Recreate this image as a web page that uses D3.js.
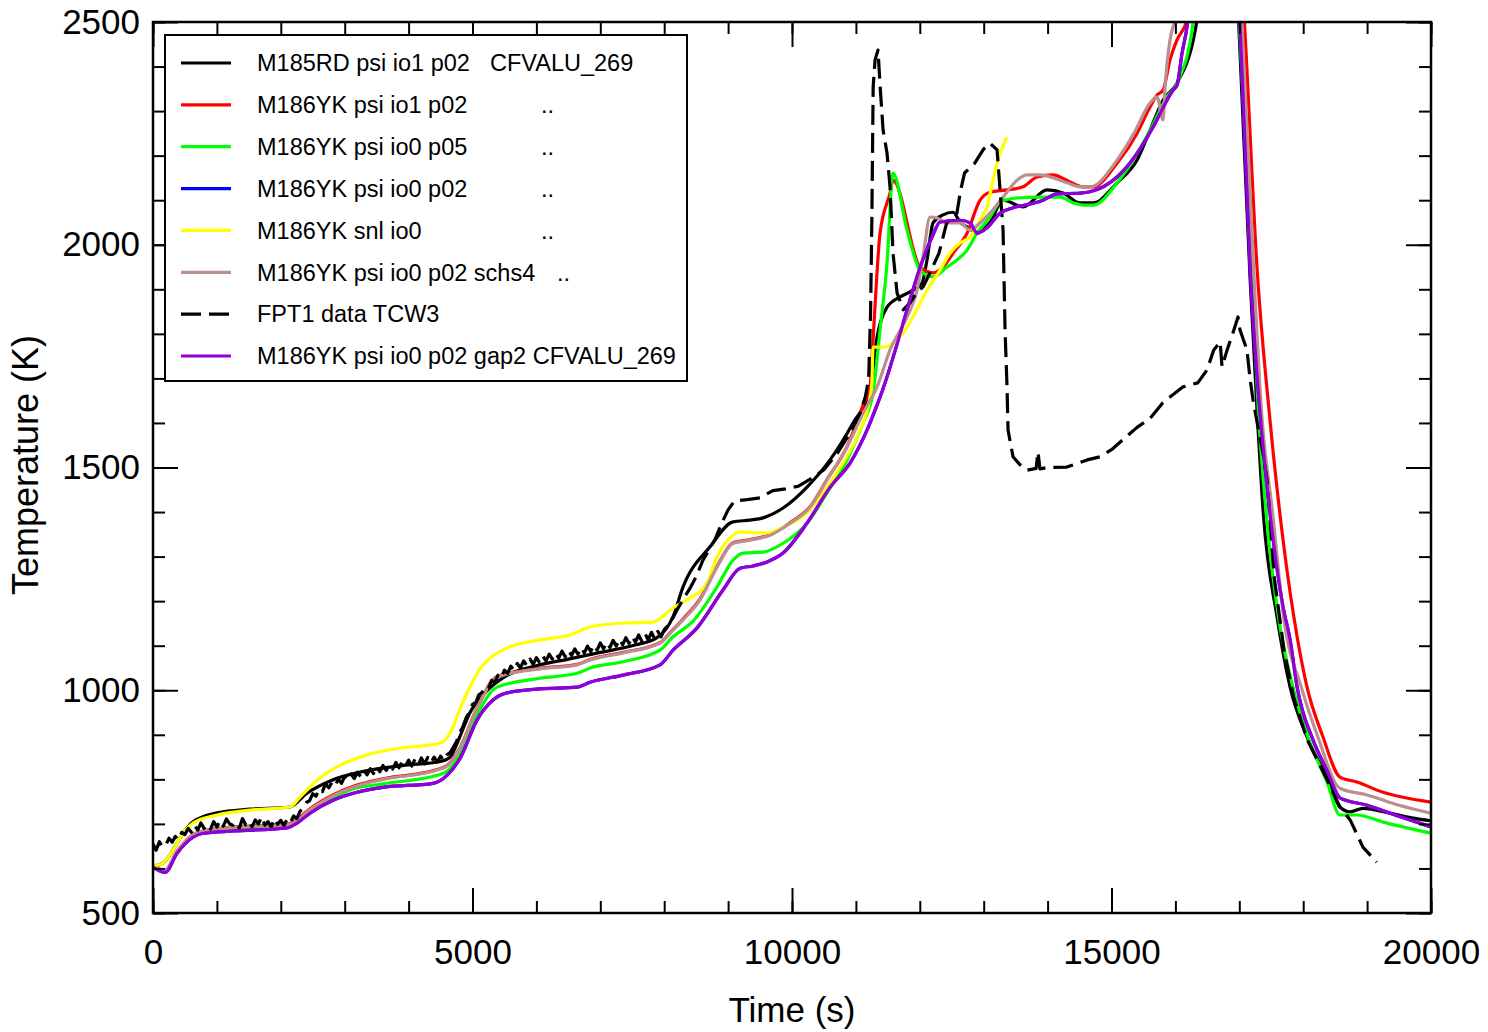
<!DOCTYPE html>
<html><head><meta charset="utf-8">
<script src="https://cdn.jsdelivr.net/npm/d3@7"></script>
<style>body{margin:0;background:#fff}svg{display:block}</style>
</head><body><svg id="c" width="1488" height="1032"></svg>
<script>
// ---------------- data (time s, temperature K) ----------------
const m185rd = [[0,605],[157,612],[313,641],[470,679],[626,705],[1002,725],[1518,733],[2144,738],[2400,768],[2800,798],[3300,818],[3900,831],[4500,840],[4650,850],[4800,895],[4961,950],[5200,995],[5500,1030],[6000,1055],[6500,1070],[7000,1085],[7500,1100],[7888,1118],[8138,1165],[8295,1232],[8717,1322],[9077,1378],[9343,1382],[9547,1387],[9860,1409],[10235,1456],[10595,1517],[10955,1600],[11221,1674],[11331,1793],[11487,1860],[11691,1883],[11894,1898],[12035,1914],[12113,1966],[12207,2049],[12364,2067],[12520,2073],[12630,2051],[12739,2040],[12896,2029],[13099,2050],[13303,2100],[13616,2085],[13991,2123],[14242,2116],[14508,2094],[14711,2094],[15087,2139],[15400,2190],[15603,2257],[15807,2325],[16026,2363],[16339,2505],[16600,2900],[16850,2900],[16990,2500],[17170,1921],[17280,1622],[17375,1398],[17590,1165],[17795,1007],[18060,895],[18370,805],[18575,738],[18735,727],[18935,735],[19360,724],[19720,713],[20000,707]];
const m186io1p02 = [[0,603],[188,596],[376,638],[626,676],[783,684],[1252,693],[2097,699],[2254,710],[2457,734],[2817,765],[3193,787],[3600,801],[4445,822],[4601,831],[4805,871],[5071,960],[5384,1031],[6057,1049],[6636,1058],[6839,1069],[7356,1085],[7935,1107],[8138,1136],[8295,1160],[8561,1205],[8827,1278],[9077,1331],[9343,1338],[9656,1349],[9969,1376],[10282,1412],[10548,1473],[10861,1547],[11112,1640],[11221,1681],[11268,1786],[11378,2026],[11534,2116],[11581,2145],[12004,1950],[12207,1937],[12364,1950],[12520,1981],[12739,2026],[12943,2100],[13099,2118],[13365,2123],[13616,2130],[13835,2152],[14085,2157],[14351,2141],[14555,2130],[14711,2130],[15087,2183],[15400,2250],[15603,2309],[15713,2336],[15807,2347],[15916,2415],[16026,2460],[16182,2505],[16400,2900],[16900,2900],[17080,2500],[17280,1943],[17480,1607],[17685,1337],[17905,1120],[18060,1007],[18310,895],[18575,805],[18840,794],[19250,771],[20000,749]];
const m186io0p05 = [[0,603],[188,593],[376,636],[626,673],[783,682],[1252,688],[2097,694],[2254,705],[2457,728],[2817,758],[3083,776],[3600,790],[4445,809],[4601,818],[4805,858],[5071,945],[5384,1007],[6057,1027],[6636,1038],[6839,1050],[7356,1064],[7935,1090],[8138,1120],[8451,1155],[8827,1232],[9077,1292],[9234,1308],[9547,1310],[9860,1330],[10235,1375],[10548,1443],[10861,1517],[11112,1600],[11268,1667],[11378,1809],[11487,1959],[11581,2161],[11800,2033],[12004,1943],[12207,1928],[12426,1950],[12583,1966],[12739,1988],[12896,2026],[13099,2062],[13256,2096],[13522,2105],[13881,2107],[14195,2107],[14398,2094],[14555,2089],[14711,2089],[15087,2139],[15400,2205],[15603,2257],[15869,2332],[16026,2363],[16276,2498],[16500,2900],[16850,2900],[17000,2500],[17200,1921],[17300,1622],[17420,1398],[17620,1158],[17840,1007],[18110,881],[18370,795],[18575,720],[18840,720],[19250,704],[20000,679]];
const m186io0p02 = [[0,603],[188,591],[376,634],[626,670],[783,679],[1252,684],[2097,691],[2254,702],[2457,724],[2817,753],[3193,771],[3600,782],[4382,791],[4601,809],[4805,847],[5071,933],[5321,978],[5540,994],[6057,1003],[6636,1007],[6839,1018],[7356,1034],[7935,1057],[8138,1090],[8514,1140],[8920,1225],[9187,1274],[9390,1279],[9609,1288],[9860,1308],[10235,1375],[10595,1456],[10908,1510],[11174,1584],[11378,1658],[12191,2017],[12317,2051],[12630,2055],[12786,2049],[12896,2026],[13052,2038],[13256,2071],[13459,2083],[13772,2093],[13929,2100],[14148,2114],[14508,2116],[14664,2119],[15087,2152],[15400,2205],[15650,2264],[15963,2347],[16026,2358],[16104,2430],[16182,2489],[16400,2850],[16850,2850],[17010,2500],[17170,1943],[17325,1622],[17480,1398],[17685,1187],[17795,1113],[17905,1007],[18155,888],[18370,821],[18580,758],[19000,742],[19520,716],[20000,693]];
const m186snl = [[0,605],[31,606],[157,612],[313,641],[470,679],[626,702],[1002,720],[1518,731],[2144,738],[2301,760],[2567,798],[2880,828],[3349,855],[3866,870],[4492,881],[4648,904],[4805,958],[4961,1008],[5120,1048],[5274,1072],[5540,1095],[6057,1113],[6526,1124],[6839,1142],[7356,1151],[7825,1153],[8138,1185],[8357,1203],[8670,1241],[8827,1299],[9077,1348],[9187,1355],[9609,1353],[9860,1366],[10235,1398],[10548,1456],[10799,1510],[11065,1584],[11221,1658],[11250,1690],[11268,1770],[11425,1770],[11581,1779],[11738,1801],[11894,1838],[12113,1898],[12317,1943],[12473,1981],[12630,2004],[12786,2017],[12943,2055],[13052,2085],[13146,2145],[13256,2206],[13365,2242]];
const m186schs4 = [[0,603],[188,596],[376,638],[626,676],[783,684],[1252,692],[2097,698],[2254,708],[2457,732],[2817,763],[3193,785],[3600,800],[4445,821],[4601,830],[4805,870],[5071,960],[5384,1030],[6057,1048],[6636,1057],[6839,1068],[7356,1084],[7935,1106],[8138,1135],[8295,1158],[8561,1203],[8827,1277],[9077,1330],[9343,1337],[9656,1348],[9969,1375],[10282,1411],[10548,1472],[10861,1546],[11112,1622],[11331,1681],[11534,1764],[11800,1838],[11957,1898],[12051,1973],[12160,2062],[12270,2060],[12426,2049],[12630,2049],[12786,2033],[12943,2049],[13099,2071],[13303,2107],[13522,2145],[13678,2157],[13881,2157],[14304,2139],[14508,2130],[14664,2130],[15087,2190],[15350,2250],[15603,2318],[15713,2332],[15807,2280],[15838,2354],[15916,2460],[15993,2505],[16300,2900],[16850,2900],[17040,2500],[17230,1930],[17350,1620],[17520,1400],[17700,1158],[17970,1007],[18230,895],[18575,780],[19000,765],[19500,742],[20000,724]];
// FPT1 measured TCW3: noisy early part sampled every 50 s from t = 0 to 8000 s
const fpt1EarlyStep = 50;
const fpt1Early = [
 655,641,660,648,652,668,659,672,664,681,
 676,690,681,697,686,702,690,699,688,705,
 693,708,695,711,700,697,704,690,712,698,
 706,694,709,700,716,697,705,693,712,699,
 708,696,711,703,718,712,728,735,748,752,
 768,762,778,772,790,781,793,785,801,791,
 806,797,812,802,816,806,821,810,824,813,
 827,817,831,820,834,823,838,826,840,829,
 843,830,845,833,848,835,849,837,850,839,
 852,842,855,860,872,885,905,918,938,950,
 968,972,990,995,1008,1005,1022,1018,1034,1028,
 1045,1038,1054,1044,1060,1050,1066,1055,1070,1058,
 1073,1062,1077,1066,1081,1070,1084,1072,1088,1075,
 1090,1078,1093,1081,1096,1084,1099,1087,1102,1090,
 1106,1093,1108,1096,1112,1099,1115,1102,1118,1105,
 1121,1108,1124,1110,1127,1113,1130,1116,1132,1120,
 1136];
const fpt1Late = [[8100,1152],[8200,1180],[8300,1205],[8400,1228],[8500,1255],[8600,1290],[8700,1315],[8800,1340],[8900,1375],[9000,1405],[9100,1425],[9300,1428],[9500,1432],[9700,1448],[9900,1452],[10100,1458],[10300,1475],[10500,1495],[10700,1530],[10900,1575],[11065,1622],[11150,1660],[11200,1700],[11230,1850],[11250,2060],[11270,2354],[11300,2415],[11346,2437],[11380,2354],[11425,2258],[11487,2206],[11534,2130],[11581,1981],[11644,1892],[11740,1854],[11850,1870],[11960,1895],[12050,1905],[12160,1937],[12300,1981],[12420,2049],[12580,2071],[12640,2123],[12700,2161],[12860,2183],[13000,2215],[13099,2228],[13209,2213],[13303,2033],[13334,1809],[13365,1681],[13381,1584],[13459,1524],[13569,1506],[13678,1494],[13820,1498],[13850,1535],[13880,1497],[14000,1500],[14300,1501],[14620,1517],[14820,1524],[15000,1540],[15200,1565],[15400,1590],[15603,1610],[15800,1645],[16120,1681],[16350,1690],[16495,1719],[16600,1764],[16700,1782],[16730,1726],[16810,1764],[16900,1802],[16980,1838],[17010,1809],[17120,1764],[17170,1697],[17215,1652],[17280,1600],[17370,1533],[17435,1472],[17550,1250],[17700,1090],[17850,985],[18060,890],[18370,800],[18575,738],[18735,709],[18935,648],[19150,614]];
const m186gap2 = [[0,603],[188,591],[376,634],[626,670],[783,679],[1252,684],[2097,691],[2254,702],[2457,724],[2817,753],[3193,771],[3600,782],[4382,791],[4601,809],[4805,847],[5071,933],[5321,978],[5540,994],[6057,1003],[6636,1007],[6839,1018],[7356,1034],[7935,1057],[8138,1090],[8514,1140],[8920,1225],[9187,1274],[9390,1279],[9609,1288],[9860,1308],[10235,1375],[10595,1456],[10908,1510],[11174,1584],[11378,1658],[12191,2017],[12317,2051],[12630,2055],[12786,2049],[12896,2026],[13052,2038],[13256,2071],[13459,2083],[13772,2093],[13929,2100],[14148,2114],[14508,2116],[14664,2119],[15087,2152],[15400,2205],[15650,2264],[15963,2347],[16026,2358],[16104,2430],[16182,2489],[16400,2850],[16850,2850],[17010,2500],[17170,1943],[17325,1622],[17480,1398],[17685,1187],[17795,1113],[17905,1007],[18155,888],[18370,821],[18580,758],[19000,742],[19520,716],[20000,693]];

const legendLabels = ["M185RD psi io1 p02","M186YK psi io1 p02","M186YK psi io0 p05","M186YK psi io0 p02","M186YK snl io0","M186YK psi io0 p02 schs4","FPT1 data TCW3","M186YK psi io0 p02 gap2 CFVALU_269"];
const legendNotes = ["CFVALU_269","..","..","..","..","..","",""];
const xTicks = [0,5000,10000,15000,20000];
const yTicks = [500,1000,1500,2000,2500];
const xTitle = "Time (s)";
const yTitle = "Temperature (K)";

// ---------------- drawing ----------------
const FONT = '"Liberation Sans", Arial, Helvetica, sans-serif';
const m = {l:153, r:1431, t:22, b:913};
const x = d3.scaleLinear().domain([0,20000]).range([m.l,m.r]);
const y = d3.scaleLinear().domain([500,2500]).range([m.b,m.t]);
const svg = d3.select("#c");
svg.append("rect").attr("width",1488).attr("height",1032).attr("fill","#fff");
svg.append("defs").append("clipPath").attr("id","clip").append("rect")
  .attr("x",m.l).attr("y",m.t).attr("width",m.r-m.l).attr("height",m.b-m.t);

const fpt1 = fpt1Early.map((v,i)=>[i*fpt1EarlyStep, v]).concat(fpt1Late);

const series = [
  {data:m185rd, color:"#000000"},
  {data:m186io1p02, color:"#ff0000"},
  {data:m186io0p05, color:"#00ff00"},
  {data:m186io0p02, color:"#0000ff"},
  {data:m186snl, color:"#ffff00"},
  {data:m186schs4, color:"rgb(188,143,143)"},
  {data:fpt1, color:"#000000", dash:"20,8", raw:true},
  {data:m186gap2, color:"rgb(148,0,211)"}
];
const smooth = d3.line().x(d=>x(d[0])).y(d=>y(d[1])).curve(d3.curveMonotoneX);
const raw = d3.line().x(d=>x(d[0])).y(d=>y(d[1]));
const gl = svg.append("g").attr("clip-path","url(#clip)");
series.forEach(s=>{
  gl.append("path").attr("d",(s.raw?raw:smooth)(s.data)).attr("fill","none")
    .attr("stroke",s.color).attr("stroke-width",3.2)
    .attr("stroke-linejoin","round")
    .attr("stroke-dasharray",s.dash||null);
});

function ax(gen, tr){
  const a = svg.append("g").attr("transform",tr).call(gen);
  a.select(".domain").remove();
  a.selectAll("line").attr("stroke","#000").attr("stroke-width",2);
  a.selectAll("text").attr("font-size",35).attr("font-family",FONT).attr("fill","#000");
  return a;
}
const xMinor = d3.range(0,20001,1000), yMinor = d3.range(500,2501,100);
ax(d3.axisBottom(x).tickValues(xMinor).tickSize(-12).tickSizeOuter(0).tickFormat(""), `translate(0,${m.b})`);
ax(d3.axisBottom(x).tickValues(xTicks).tickSize(-25).tickSizeOuter(0).tickPadding(26).tickFormat(d3.format("d")), `translate(0,${m.b})`);
ax(d3.axisTop(x).tickValues(xMinor).tickSize(-12).tickSizeOuter(0).tickFormat(""), `translate(0,${m.t})`);
ax(d3.axisTop(x).tickValues(xTicks).tickSize(-25).tickSizeOuter(0).tickFormat(""), `translate(0,${m.t})`);
ax(d3.axisLeft(y).tickValues(yMinor).tickSize(-12).tickSizeOuter(0).tickFormat(""), `translate(${m.l},0)`);
ax(d3.axisLeft(y).tickValues(yTicks).tickSize(-25).tickSizeOuter(0).tickPadding(13).tickFormat(d3.format("d")), `translate(${m.l},0)`);
ax(d3.axisRight(y).tickValues(yMinor).tickSize(-12).tickSizeOuter(0).tickFormat(""), `translate(${m.r},0)`);
ax(d3.axisRight(y).tickValues(yTicks).tickSize(-25).tickSizeOuter(0).tickFormat(""), `translate(${m.r},0)`);

svg.append("rect").attr("x",m.l).attr("y",m.t).attr("width",m.r-m.l).attr("height",m.b-m.t)
  .attr("fill","none").attr("stroke","#000").attr("stroke-width",2.5);

svg.append("text").attr("x",(m.l+m.r)/2).attr("y",1022).attr("text-anchor","middle")
  .attr("font-size",35).attr("font-family",FONT).text(xTitle);
svg.append("text").attr("transform","translate(38,465) rotate(-90)").attr("text-anchor","middle")
  .attr("font-size",36).attr("font-family",FONT).text(yTitle);

// legend
const lg = svg.append("g");
lg.append("rect").attr("x",165).attr("y",35).attr("width",522).attr("height",346)
  .attr("fill","#fff").attr("stroke","#000").attr("stroke-width",2);
const noteX = [490,541,541,541,541,557,0,0];
series.forEach((s,i)=>{
  const cy = 63 + i*41.86;
  lg.append("line").attr("x1",181).attr("x2",231).attr("y1",cy).attr("y2",cy)
    .attr("stroke",s.color).attr("stroke-width",3.2).attr("stroke-dasharray",s.dash||null);
  lg.append("text").attr("x",257).attr("y",cy).attr("dy","0.35em")
    .attr("font-size",23.5).attr("font-family",FONT).text(legendLabels[i]);
  if (legendNotes[i]) lg.append("text").attr("x",noteX[i]).attr("y",cy).attr("dy","0.35em")
    .attr("font-size",23.5).attr("font-family",FONT).text(legendNotes[i]);
});
</script></body></html>
